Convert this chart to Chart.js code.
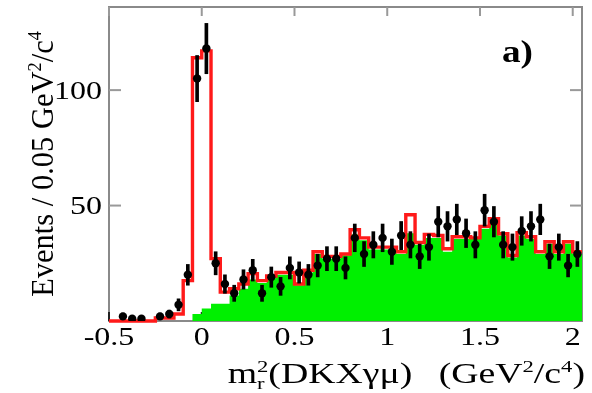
<!DOCTYPE html>
<html>
<head>
<meta charset="utf-8">
<script src="https://cdn.jsdelivr.net/npm/chart.js@4/dist/chart.umd.min.js"></script>
<style>
  html, body { margin: 0; padding: 0; background: #fff; }
  #wrap { width: 592px; height: 393px; position: relative; }
</style>
</head>
<body>
<div id="wrap"><canvas id="chart"></canvas></div>
<script>
// histogram binning: 51 bins of 0.05 starting at -0.5
const binStart = -0.5;
const binWidth = 0.05;

// data points (events per bin), null = empty bin
const dataCounts = [null, 2, 1, 1, null, 2, 3, 7, 20, 105, 118, 25, 16, 12, 18, 22, 12, 19, 15, 23,
  21, 20, 24, 27, 27, 23, 36, 29, 33, 36, 30, 37, 33, 28, 32, 43, 41, 44, 38, 33,
  48, 43, 33, 32, 39, 41, 44, 28, 32, 24, 29];
const dataErrors = [null, 1.4, 1, 1, null, 1.4, 1.7, 2.6, 4.5, 10, 10.9, 5, 4, 3.5, 4.2, 4.7, 3.5, 4.4, 3.9, 4.8,
  4.6, 4.5, 4.9, 5.2, 5.2, 4.8, 6, 5.4, 5.7, 6, 5.5, 6.1, 5.7, 5.3, 5.7, 6.6, 6.4, 6.6, 6.2, 5.7,
  6.9, 6.6, 5.7, 5.7, 6.2, 6.4, 6.6, 5.3, 5.7, 4.9, 5.4];
// total fit (red)
const fitTotal = [0, 0, 0, 0, 0, 1.3, 1.3, 3, 17.5, 114, 117, 27, 12.5, 14, 16, 20.5, 17.5, 19.5, 21, 21,
  16, 22, 30, 28, 28, 29, 39.5, 36, 32, 32, 32, 30, 46, 34, 37.5, 37, 31.3, 36.5, 36.5, 36,
  41, 44.3, 37.8, 28.4, 38.2, 36.5, 30, 34.3, 30, 34.3, 30];
// background component (green)
const fitBackground = [0, 0, 0, 0, 0, 0, 0, 0, 0, 3, 5.4, 7.5, 7.5, 11, 14, 18, 16.5, 18.5, 20, 20,
  15.5, 21, 29, 27, 27, 28.5, 37.5, 35, 31, 31, 31, 29, 38, 33, 36, 36, 30, 35.5, 35.5, 35.5,
  40, 43, 37, 27.5, 37, 35.5, 29, 33.5, 29, 33.5, 29];

const xTicks = [-0.5, 0, 0.5, 1, 1.5, 2];
const yTicks = [50, 100];
const xMin = -0.5, xMax = 2.05, yMin = 0, yMax = 136;

const FONT = '"Liberation Serif", "Times New Roman", serif';
const STRETCH = 1.28;

function histPoints(vals) {
  const pts = vals.map((v, i) => ({ x: binStart + i * binWidth, y: v }));
  pts.push({ x: binStart + vals.length * binWidth, y: vals[vals.length - 1] });
  return pts;
}

const points = [];
const errBars = [];
dataCounts.forEach((v, i) => {
  if (v === null) return;
  const x = binStart + (i + 0.5) * binWidth;
  points.push({ x: x, y: v });
  errBars.push({ x: x, y: [v - dataErrors[i], v + dataErrors[i]] });
});

// draw text made of pieces (superscripts / subscripts), horizontally stretched
function drawRich(ctx, parts, x, y, size, align, sx, bold) {
  const w0 = bold ? 'bold ' : '';
  let w = 0, lastX = 0;
  const laid = [];
  for (const p of parts) {
    const fs = (p.sup || p.sub) ? size * 0.6 : size;
    ctx.font = `${w0}${fs}px ${FONT}`;
    const pw = ctx.measureText(p.t).width;
    if (p.stack) {
      laid.push({ p, x: lastX, fs });
      w = Math.max(w, lastX + pw);
    } else {
      laid.push({ p, x: w, fs });
      lastX = w;
      w += pw;
    }
  }
  const start = align === 'right' ? -w : align === 'center' ? -w / 2 : 0;
  ctx.save();
  ctx.translate(x, y);
  ctx.scale(sx, 1);
  ctx.fillStyle = '#000';
  ctx.textAlign = 'left';
  ctx.textBaseline = 'alphabetic';
  for (const l of laid) {
    ctx.font = `${w0}${l.fs}px ${FONT}`;
    const dy = l.p.sup ? -size * 0.38 : l.p.sub ? size * 0.2 : 0;
    ctx.fillText(l.p.t, start + l.x, dy);
  }
  ctx.restore();
}

const framePlugin = {
  id: 'frame',
  beforeDatasetsDraw(chart) {
    const { ctx, chartArea: a, scales } = chart;
    ctx.save();
    ctx.strokeStyle = '#8a8a8a';
    ctx.lineWidth = 2;
    ctx.strokeRect(a.left, a.top, a.right - a.left, a.bottom - a.top);
    for (const v of xTicks) {
      const px = scales.x.getPixelForValue(v);
      ctx.strokeStyle = '#222';
      ctx.beginPath(); ctx.moveTo(px, a.bottom); ctx.lineTo(px, a.bottom - 9); ctx.stroke();
      ctx.strokeStyle = '#999';
      ctx.beginPath(); ctx.moveTo(px, a.top); ctx.lineTo(px, a.top + 9); ctx.stroke();
    }
    ctx.strokeStyle = '#999';
    for (const v of yTicks) {
      const py = scales.y.getPixelForValue(v);
      ctx.beginPath(); ctx.moveTo(a.left, py); ctx.lineTo(a.left + 12, py); ctx.stroke();
      ctx.beginPath(); ctx.moveTo(a.right, py); ctx.lineTo(a.right - 12, py); ctx.stroke();
    }
    ctx.restore();
  },
  afterDraw(chart) {
    const { ctx, chartArea: a, scales } = chart;
    // tick labels from the scales
    for (const t of scales.x.ticks) {
      const px = scales.x.getPixelForValue(t.value);
      drawRich(ctx, [{ t: String(t.label) }], px, a.bottom + 24, 25, 'center', STRETCH);
    }
    for (const t of scales.y.ticks) {
      const py = scales.y.getPixelForValue(t.value);
      drawRich(ctx, [{ t: String(t.label) }], a.left - 7, py + 8.5, 25, 'right', STRETCH);
    }
    // x axis title
    drawRich(ctx, [
      { t: 'm' }, { t: '2', sup: true }, { t: 'r', sub: true, stack: true },
      { t: '(DKX\u03b3\u03bc)' }, { t: '\u2002\u2009' },
      { t: '(GeV' }, { t: '2', sup: true }, { t: '/c' }, { t: '4', sup: true }, { t: ')' }
    ], 585, 383, 29.5, 'right', STRETCH);
    // y axis title (rotated)
    ctx.save();
    ctx.translate(53, (a.top + a.bottom) / 2);
    ctx.rotate(-Math.PI / 2);
    drawRich(ctx, [
      { t: 'Events / 0.05 GeV' }, { t: '2', sup: true }, { t: '/c' }, { t: '4', sup: true }
    ], 0, 0, 30.5, 'center', 1);
    ctx.restore();
    // panel label
    drawRich(ctx, [{ t: 'a)' }], 502, 62, 31, 'left', 1.2, true);
  }
};

function build() {
  new Chart(document.getElementById('chart'), {
    type: 'scatter',
    data: {
      datasets: [
        {
          type: 'scatter',
          data: points,
          backgroundColor: '#000',
          borderWidth: 0,
          pointRadius: 4.2,
          order: 0
        },
        {
          type: 'bar',
          data: errBars,
          backgroundColor: '#000',
          barThickness: 3,
          order: 1
        },
        {
          type: 'line',
          data: histPoints(fitTotal),
          stepped: 'before',
          borderColor: '#ff1a1a',
          borderWidth: 3.4,
          pointRadius: 0,
          fill: false,
          clip: 4,
          order: 2
        },
        {
          type: 'line',
          data: histPoints(fitBackground),
          stepped: 'before',
          borderWidth: 0,
          borderColor: 'rgba(0,0,0,0)',
          backgroundColor: '#00f000',
          pointRadius: 0,
          fill: 'origin',
          order: 3
        }
      ]
    },
    options: {
      responsive: true,
      maintainAspectRatio: false,
      animation: false,
      events: [],
      layout: { padding: { left: 47, right: 10, top: 7, bottom: 0 } },
      plugins: {
        legend: { display: false },
        tooltip: { enabled: false }
      },
      scales: {
        x: {
          type: 'linear',
          min: xMin,
          max: xMax,
          offset: false,
          grid: { display: false },
          border: { display: false },
          ticks: { display: false, callback: v => String(v) },
          afterBuildTicks: s => { s.ticks = xTicks.map(v => ({ value: v })); },
          afterFit: s => { s.height = 72; }
        },
        y: {
          type: 'linear',
          min: yMin,
          max: yMax,
          grid: { display: false },
          border: { display: false },
          ticks: { display: false, callback: v => String(v) },
          afterBuildTicks: s => { s.ticks = yTicks.map(v => ({ value: v })); },
          afterFit: s => { s.width = 62; }
        }
      }
    },
    plugins: [framePlugin]
  });
}

Promise.all([
  document.fonts.load('25px "Liberation Serif"'),
  document.fonts.load('bold 30px "Liberation Serif"')
]).then(build, build);
</script>
</body>
</html>
